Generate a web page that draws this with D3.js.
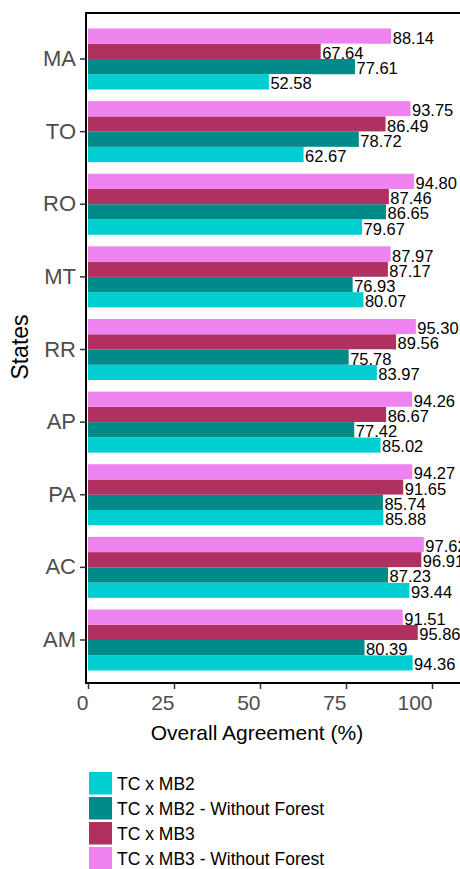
<!DOCTYPE html>
<html>
<head>
<meta charset="utf-8">
<script src="https://cdn.jsdelivr.net/npm/d3@7"></script>
<style>
  body { margin: 0; background: #fff; }
  svg { display: block; font-family: "Liberation Sans", Arial, sans-serif; }
</style>
</head>
<body>
<div id="chart"></div>
<script>
// data
var states = ['MA', 'TO', 'RO', 'MT', 'RR', 'AP', 'PA', 'AC', 'AM'];
var seriesNames = ['TC x MB2', 'TC x MB2 - Without Forest', 'TC x MB3', 'TC x MB3 - Without Forest'];
var mb2 = [52.58, 62.67, 79.67, 80.07, 83.97, 85.02, 85.88, 93.44, 94.36];
var mb2NoForest = [77.61, 78.72, 86.65, 76.93, 75.78, 77.42, 85.74, 87.23, 80.39];
var mb3 = [67.64, 86.49, 87.46, 87.17, 89.56, 86.67, 91.65, 96.91, 95.86];
var mb3NoForest = [88.14, 93.75, 94.80, 87.97, 95.30, 94.26, 94.27, 97.62, 91.51];
var xTicks = [0, 25, 50, 75, 100];
var colors = ['#00CED1', '#008B8B', '#B03060', '#EE82EE'];

var seriesValues = [mb2, mb2NoForest, mb3, mb3NoForest];

var svgWidth = 460, svgHeight = 869;

var svg = d3.select('#chart')
    .append('svg')
    .attr('width', svgWidth)
    .attr('height', svgHeight);

var xScale = d3.scaleLinear()
    .domain([0, 100])
    .range([88, 432]);

var yScale = d3.scaleBand()
    .domain(states)
    .range([22.7, 676.3])
    .paddingInner(0.16)
    .paddingOuter(0.08);

// bars inside a group: top is MB3 w/o forest, bottom is MB2
var innerScale = d3.scaleBand()
    .domain(seriesNames.slice().reverse())
    .range([0, yScale.bandwidth()]);

var colorScale = d3.scaleOrdinal()
    .domain(seriesNames)
    .range(colors);

var rows = [];
states.forEach(function(st, i) {
    seriesNames.forEach(function(name, j) {
        rows.push({ state: st, series: name, value: seriesValues[j][i] });
    });
});

// bars
svg.append('g')
    .selectAll('rect')
    .data(rows)
    .enter()
    .append('rect')
    .attr('x', xScale(0))
    .attr('y', d => yScale(d.state) + innerScale(d.series))
    .attr('width', d => xScale(d.value) - xScale(0))
    .attr('height', innerScale.bandwidth())
    .attr('fill', d => colorScale(d.series));

// value labels with white box
var labels = svg.append('g')
    .selectAll('g')
    .data(rows)
    .enter()
    .append('g')
    .attr('transform', d => `translate(${xScale(d.value)}, ${yScale(d.state) + innerScale(d.series)})`);

labels.append('rect')
    .attr('class', 'lbl-bg')
    .attr('fill', '#fff')
    .attr('height', innerScale.bandwidth());

labels.append('text')
    .attr('x', 1.5)
    .attr('y', innerScale.bandwidth() / 2 + 1.5)
    .attr('dominant-baseline', 'central')
    .style('font-size', '16.5px')
    .style('fill', '#000')
    .text(d => d.value.toFixed(2));

labels.each(function() {
    var g = d3.select(this);
    var w = g.select('text').node().getComputedTextLength();
    g.select('rect').attr('x', 0.5).attr('width', w + 2.5);
});

// panel border
svg.append('rect')
    .attr('x', 86)
    .attr('y', 13)
    .attr('width', 400)
    .attr('height', 670)
    .attr('fill', 'none')
    .attr('stroke', '#000')
    .attr('stroke-width', 2);

// y axis
var yAxis = svg.append('g')
    .attr('transform', 'translate(86,0)')
    .call(d3.axisLeft(yScale).tickSize(6).tickPadding(4));
yAxis.select('.domain').remove();
yAxis.selectAll('line').attr('stroke', '#333').attr('stroke-width', 1.5);
yAxis.selectAll('text')
    .style('font-size', '22px')
    .style('fill', '#4D4D4D')
    .style('font-family', '"Liberation Sans", Arial, sans-serif');

// x axis
var xAxis = svg.append('g')
    .attr('transform', 'translate(0,683)')
    .call(d3.axisBottom(xScale).tickValues(xTicks).tickSize(6).tickPadding(6));
xAxis.select('.domain').remove();
xAxis.selectAll('line').attr('stroke', '#333').attr('stroke-width', 1.5);
xAxis.selectAll('text')
    .attr('text-anchor', 'end')
    .attr('dy', null)
    .attr('y', 27)
    .style('font-size', '21px')
    .style('fill', '#4D4D4D')
    .style('font-family', '"Liberation Sans", Arial, sans-serif');

// axis titles
svg.append('text')
    .attr('x', 257)
    .attr('y', 740)
    .attr('text-anchor', 'middle')
    .style('font-size', '21px')
    .style('fill', '#000')
    .text('Overall Agreement (%)');

svg.append('text')
    .attr('transform', 'translate(28,347) rotate(-90)')
    .attr('text-anchor', 'middle')
    .style('font-size', '23px')
    .style('fill', '#000')
    .text('States');

// legend
var legend = svg.append('g')
    .selectAll('g')
    .data(seriesNames)
    .enter()
    .append('g')
    .attr('transform', (d, i) => `translate(89, ${772 + i * 25})`);

legend.append('rect')
    .attr('width', 23)
    .attr('height', 22.5)
    .attr('fill', d => colorScale(d));

legend.append('text')
    .attr('x', 28)
    .attr('y', 11.5)
    .attr('dominant-baseline', 'central')
    .style('font-size', '17.5px')
    .style('fill', '#000')
    .text(d => d);
</script>
</body>
</html>
